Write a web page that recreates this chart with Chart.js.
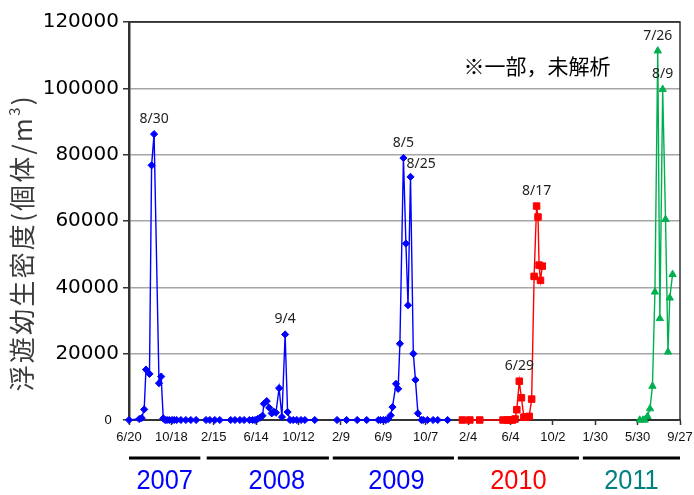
<!DOCTYPE html>
<html><head><meta charset="utf-8">
<script src="https://cdn.jsdelivr.net/npm/chart.js@4.4.1/dist/chart.umd.min.js"></script>
<style>html,body{margin:0;padding:0;background:#fff;}canvas{display:block;}</style>
</head><body>
<canvas id="c" width="694" height="495"></canvas>
<script>
// ---------- DATA ----------
const axisStart = '2007-06-20';
const axisEnd = '2011-09-27';
const xTickLabels = ['6/20','10/18','2/15','6/14','10/12','2/9','6/9','10/7','2/4','6/4','10/2','1/30','5/30','9/27'];
const yTickLabels = ['0','20000','40000','60000','80000','100000','120000'];

const dates2007 = ['2007-06-20','2007-07-19','2007-07-26','2007-08-02','2007-08-07','2007-08-17','2007-08-23','2007-08-30','2007-09-13','2007-09-19','2007-09-25','2007-09-30','2007-10-06','2007-10-12','2007-10-20','2007-10-26','2007-11-02','2007-11-14','2007-11-28','2007-12-12','2007-12-27'];
const values2007 = [0,300,600,3200,15200,13900,76800,86200,11100,13100,500,0,0,0,0,0,0,0,0,0,0];

const dates2008 = ['2008-01-24','2008-02-04','2008-02-18','2008-03-03','2008-04-03','2008-04-15','2008-04-29','2008-05-11','2008-05-26','2008-06-04','2008-06-11','2008-06-18','2008-06-25','2008-07-02','2008-07-06','2008-07-14','2008-07-21','2008-07-28','2008-08-03','2008-08-09','2008-08-18','2008-08-26','2008-09-04','2008-09-11','2008-09-18','2008-09-27','2008-10-07','2008-10-19','2008-10-30','2008-11-27'];
const values2008 = [0,0,0,0,0,0,0,0,0,0,0,300,700,1300,4900,5700,3700,2000,2500,2200,9600,900,25800,2400,0,0,0,0,0,0];

const dates2009 = ['2009-01-29','2009-02-25','2009-03-27','2009-04-23','2009-05-26','2009-06-01','2009-06-09','2009-06-16','2009-06-23','2009-06-30','2009-07-05','2009-07-15','2009-07-21','2009-07-26','2009-08-05','2009-08-12','2009-08-18','2009-08-25','2009-09-02','2009-09-08','2009-09-15','2009-09-25','2009-09-30','2009-10-12','2009-10-28','2009-11-10','2009-12-08'];
const values2009 = [0,0,0,0,0,0,0,0,300,1400,3900,10900,9400,23000,79000,53200,34600,73300,20000,12100,2000,0,0,0,0,0,0];

const dates2010 = ['2010-01-19','2010-02-09','2010-03-09','2010-05-14','2010-05-26','2010-06-02','2010-06-10','2010-06-17','2010-06-22','2010-06-29','2010-07-05','2010-07-12','2010-07-20','2010-07-27','2010-08-03','2010-08-10','2010-08-17','2010-08-21','2010-08-24','2010-08-28','2010-09-02'];
const values2010 = [0,0,0,0,0,0,0,300,3100,11700,6700,850,900,1100,6300,43300,64500,61200,46700,42100,46400];

const dates2011 = ['2011-06-05','2011-06-14','2011-06-19','2011-06-27','2011-07-04','2011-07-11','2011-07-18','2011-07-26','2011-08-01','2011-08-09','2011-08-17','2011-08-24','2011-08-29','2011-09-06'];
const values2011 = [0,0,0,1100,3400,10200,38600,111300,30600,99700,60500,20500,36800,43900];

const peakDates = ['2007-08-30','2008-09-04','2009-08-05','2009-08-25','2010-06-29','2010-08-17','2011-07-26','2011-08-09'];

const yearLabels = ['2007','2008','2009','2010','2011'];
const yearStarts = ['2007-06-20','2008-01-26','2009-01-17','2010-01-06','2010-12-26'];
const yearEnds   = ['2008-01-08','2009-01-06','2009-12-26','2010-12-15','2011-09-27'];

const yTitle = '浮遊幼生密度(個体/m';
const yTitleSup = '3';
const yTitleEnd = ')';
const noteText = '※一部，未解析';

// ---------- HELPERS ----------
const DAY = 86400000;
function toDay(s){const [y,m,d]=s.split('-').map(Number);const [y0,m0,d0]=axisStart.split('-').map(Number);return (Date.UTC(y,m-1,d)-Date.UTC(y0,m0-1,d0))/DAY;}
function mdLabel(s){const [y,m,d]=s.split('-').map(Number);return m+'/'+d;}
function pts(ds,vs){return ds.map((d,i)=>({x:toDay(d),y:vs[i]}));}

const BLUE='#0000ff', RED='#ff0000', GREEN='#00b050';
const yearColors = [BLUE,BLUE,BLUE,RED,'#008080'];
const styles = {
  2007:{c:BLUE,p:'rectRot',r:3.6},2008:{c:BLUE,p:'rectRot',r:3.6},2009:{c:BLUE,p:'rectRot',r:3.6},
  2010:{c:RED,p:'rect',r:4.6},2011:{c:GREEN,p:'triangle',r:4.2}
};
function ds(year,d,v){const s=styles[year];return {label:String(year),data:pts(d,v),borderColor:s.c,backgroundColor:s.c,
  pointStyle:s.p,pointRadius:s.r,pointBorderWidth:1,borderWidth:1.4,tension:0,fill:false,clip:false};}

const decor = {
  id:'decor',
  beforeDatasetsDraw(chart){
    const a=chart.chartArea, ctx=chart.ctx;
    ctx.save();ctx.strokeStyle='#333';ctx.lineWidth=1.5;
    ctx.beginPath();ctx.moveTo(a.left,a.top);ctx.lineTo(a.right,a.top);ctx.lineTo(a.right,a.bottom);ctx.stroke();
    ctx.restore();
  },
  afterDatasetsDraw(chart){
    const ctx=chart.ctx, xs=chart.scales.x, ys=chart.scales.y;
    const all=[[dates2007,values2007],[dates2008,values2008],[dates2009,values2009],[dates2010,values2010],[dates2011,values2011]];
    ctx.save();ctx.fillStyle='#222';ctx.font='14px "Noto Sans", sans-serif';ctx.textBaseline='middle';
    peakDates.forEach(pd=>{
      let v=null;all.forEach(([d,vals])=>{const i=d.indexOf(pd);if(i>=0)v=vals[i];});
      const px=xs.getPixelForValue(toDay(pd)), py=ys.getPixelForValue(v);
      if(pd==='2009-08-25'){ctx.textAlign='left';ctx.fillText(mdLabel(pd),px-4,py-13);}
      else{ctx.textAlign='center';ctx.fillText(mdLabel(pd),px,py-15);}
    });
    ctx.restore();
  },
  afterDraw(chart){
    const ctx=chart.ctx, a=chart.chartArea, xs=chart.scales.x;
    // y title
    ctx.save();
    ctx.translate(22,244);ctx.rotate(-Math.PI/2);
    ctx.fillStyle='#3a3a3a';ctx.textBaseline='middle';
    const big='26px "Noto Sans CJK JP", sans-serif', small='15px "Noto Sans CJK JP", sans-serif';
    const chars=[...yTitle].map(ch=>({t:ch,f:big,dy:0})).concat([{t:yTitleSup,f:small,dy:-8},{t:yTitleEnd,f:big,dy:0}]);
    let natural=0;chars.forEach(c=>{ctx.font=c.f;c.w=ctx.measureText(c.t).width;natural+=c.w;});
    const target=295, sp=(target-natural)/(chars.length-1);
    let x=-target/2;ctx.textAlign='left';
    chars.forEach(c=>{ctx.font=c.f;ctx.fillText(c.t,x,c.dy);x+=c.w+sp;});
    ctx.restore();
    // note
    ctx.save();ctx.fillStyle='#000';ctx.font='21px "Noto Sans CJK JP", sans-serif';ctx.textAlign='center';ctx.textBaseline='middle';
    ctx.fillText(noteText,537,66);ctx.restore();
    // year bars and labels
    ctx.save();
    const nudge={'2008':9,'2009':3};
    yearLabels.forEach((yl,i)=>{
      const x0=xs.getPixelForValue(toDay(yearStarts[i])), x1=xs.getPixelForValue(toDay(yearEnds[i]));
      ctx.strokeStyle='#000';ctx.lineWidth=3;ctx.beginPath();ctx.moveTo(x0,458);ctx.lineTo(x1,458);ctx.stroke();
      const cx=(x0+x1)/2+(nudge[yl]||0);
      ctx.save();ctx.translate(cx,482);ctx.scale(0.94,1);
      ctx.fillStyle=yearColors[i];ctx.font='27px "Liberation Sans", Arial, sans-serif';ctx.textAlign='center';ctx.textBaseline='middle';
      ctx.fillText(yl,0,0);ctx.restore();
    });
    ctx.restore();
  }
};

new Chart(document.getElementById('c'),{
  type:'line',
  data:{datasets:[ds(2007,dates2007,values2007),ds(2008,dates2008,values2008),ds(2009,dates2009,values2009),ds(2010,dates2010,values2010),ds(2011,dates2011,values2011)]},
  options:{
    responsive:false,animation:false,devicePixelRatio:1,
    layout:{padding:{top:22,right:14,left:0,bottom:0}},
    plugins:{legend:{display:false},tooltip:{enabled:false}},
    scales:{
      x:{type:'linear',min:0,max:toDay(axisEnd),offset:false,
        ticks:{stepSize:120,autoSkip:false,maxRotation:0,minRotation:0,color:'#111',padding:5,
          font:{family:'"Liberation Sans", Arial, sans-serif',size:13},
          callback:(v,i)=>xTickLabels[i]},
        grid:{drawOnChartArea:false,drawTicks:true,tickLength:5,tickColor:'#333',tickWidth:1.5},
        border:{color:'#333',width:2},
        afterFit:s=>{s.height=75;s.paddingLeft=0;s.paddingRight=0;}
      },
      y:{min:0,max:120000,
        ticks:{stepSize:20000,color:'#000',padding:4,
          font:c=>(c.tick&&c.tick.value===0)?{family:'"Liberation Sans", Arial, sans-serif',size:13}:{family:'"DejaVu Sans", sans-serif',size:20},
          callback:(v,i)=>i===0?yTickLabels[i]+'  ':yTickLabels[i]},
        grid:{color:c=>(c.tick&&c.tick.value===0)?'rgba(0,0,0,0)':(c.tick&&c.tick.value===120000?'#333':'#a6a6a6'),lineWidth:1.5,tickColor:'#333',tickLength:6,tickWidth:1.5},
        border:{color:'#333',width:2.5},
        afterFit:s=>{s.width=129;s.paddingTop=0;s.paddingBottom=0;}
      }
    }
  },
  plugins:[decor]
});
</script>
</body></html>
